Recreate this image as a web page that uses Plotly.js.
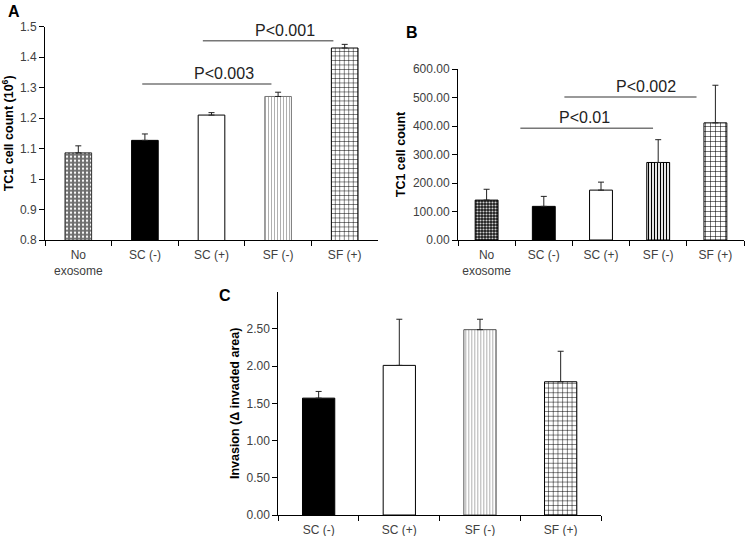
<!DOCTYPE html>
<html>
<head>
<meta charset="utf-8">
<script src="https://cdn.plot.ly/plotly-3.0.1.min.js"></script>
<style>html,body{margin:0;padding:0;background:#fff;}#chart{width:745px;height:536px;}</style>
</head>
<body>
<div id="chart"></div>
<script>
// ---- Data ----
const categoriesAB = ["No<br>exosome", "SC (-)", "SC (+)", "SF (-)", "SF (+)"];
const cellCountA = [1.086, 1.127, 1.210, 1.271, 1.430];
const cellCountAErr = [0.023, 0.021, 0.008, 0.014, 0.012];
const cellCountB = [140, 118, 175, 272, 411];
const cellCountBErr = [38, 35, 28, 80, 132];
const categoriesC = ["SC (-)", "SC (+)", "SF (-)", "SF (+)"];
const invasionC = [1.57, 2.01, 2.49, 1.79];
const invasionCErr = [0.09, 0.62, 0.14, 0.41];

// significance brackets (category index from/to, value level, label)
const sigAFrom = [0.96, 1.87];
const sigATo = [2.90, 3.83];
const sigALevel = [1.312, 1.454];
const sigALabel = ["P<0.003", "P<0.001"];
const sigALabelPos = [2.19, 3.11];
const sigBFrom = [0.59, 1.36];
const sigBTo = [2.91, 3.67];
const sigBLevel = [392, 502];
const sigBLabel = ["P<0.01", "P<0.002"];
const sigBLabelPos = [1.72, 2.78];

// ---- Styles ----
const FONT = "Liberation Sans, Arial, sans-serif";
const W = 745, H = 536;
const px = v => v / W;
const py = v => (H - v) / H;

// one style per bar: [shape, fg, bg, size, solidity, outline]
const styleA = [
  [".", "#ffffff", "#6e6e6e", 4, 0.25, "#333"],
  ["", "#000", "#000000", 4, 0.3, "#000"],
  ["", "#000", "#ffffff", 4, 0.3, "#000"],
  ["|", "#b0b0b0", "#ffffff", 3, 0.35, "#777"],
  ["+", "#000000", "#ffffff", 4.5, 0.2, "#000"]
];
const styleB = [
  [".", "#d0d0d0", "#1a1a1a", 3, 0.4, "#000"],
  ["", "#000", "#000000", 4, 0.3, "#000"],
  ["", "#000", "#ffffff", 4, 0.3, "#000"],
  ["|", "#000000", "#ffffff", 3, 0.4, "#000"],
  ["+", "#000000", "#ffffff", 5, 0.2, "#000"]
];
const styleC = [
  ["", "#000", "#000000", 4, 0.3, "#000"],
  ["", "#000", "#ffffff", 4, 0.3, "#000"],
  ["|", "#b0b0b0", "#ffffff", 3, 0.35, "#555"],
  ["+", "#000000", "#ffffff", 4.7, 0.2, "#000"]
];

function panelTraces(cats, vals, errs, xa, ya, styles) {
  return cats.map((c, i) => {
    const s = styles[i];
    const marker = {color: s[2], line: {color: s[5], width: 1}};
    if (s[0]) marker.pattern = {shape: s[0], fgcolor: s[1], bgcolor: s[2], size: s[3], solidity: s[4], fillmode: "replace"};
    return {
      type: "bar", x: [c], y: [vals[i]], xaxis: xa, yaxis: ya, width: 0.4,
      marker: marker,
      error_y: {type: "data", symmetric: false, array: [errs[i]], arrayminus: [0], color: "#222", thickness: 1, width: 3},
      showlegend: false, hoverinfo: "x+y"
    };
  });
}

const data = [].concat(
  panelTraces(categoriesAB, cellCountA, cellCountAErr, "x", "y", styleA),
  panelTraces(categoriesAB, cellCountB, cellCountBErr, "x2", "y2", styleB),
  panelTraces(categoriesC, invasionC, invasionCErr, "x3", "y3", styleC)
);

const tickFont = {family: FONT, size: 12, color: "#404040"};
const titleFont = {family: FONT, size: 12.5, color: "#000"};

function xAxis(domain, anchor, cats) {
  return {
    domain: domain, anchor: anchor, type: "category", range: [-0.5, cats.length - 0.5],
    categoryorder: "array", categoryarray: cats, tickangle: 0, ticklabelstandoff: 4,
    showline: true, linecolor: "#000", linewidth: 1, ticks: "outside", tickson: "boundaries",
    ticklen: 5, tickcolor: "#000", showgrid: false, zeroline: false, tickfont: tickFont, fixedrange: true
  };
}
function yAxis(domain, anchor, range, extra, title) {
  return Object.assign({
    domain: domain, anchor: anchor, range: range,
    showline: true, linecolor: "#000", linewidth: 1, ticks: "outside", ticklen: 5, tickcolor: "#000",
    showgrid: false, zeroline: false, tickfont: tickFont, fixedrange: true,
    title: {text: title, font: titleFont, standoff: 4}
  }, extra);
}

const shapes = [];
const annotations = [];
sigAFrom.forEach((f, i) => {
  shapes.push({type: "line", xref: "x", yref: "y", x0: f, x1: sigATo[i], y0: sigALevel[i], y1: sigALevel[i], line: {color: "#777", width: 1.5}});
  annotations.push({xref: "x", yref: "y", x: sigALabelPos[i], y: sigALevel[i], text: sigALabel[i], showarrow: false, yanchor: "bottom", xanchor: "center", font: {family: FONT, size: 16, color: "#222"}});
});
sigBFrom.forEach((f, i) => {
  shapes.push({type: "line", xref: "x2", yref: "y2", x0: f, x1: sigBTo[i], y0: sigBLevel[i], y1: sigBLevel[i], line: {color: "#777", width: 1.5}});
  annotations.push({xref: "x2", yref: "y2", x: sigBLabelPos[i], y: sigBLevel[i], text: sigBLabel[i], showarrow: false, yanchor: "bottom", xanchor: "center", font: {family: FONT, size: 16, color: "#222"}});
});
[["A", 14, 12], ["B", 412, 33], ["C", 225, 295]].forEach(l => {
  annotations.push({xref: "paper", yref: "paper", x: px(l[1]), y: py(l[2]), text: "<b>" + l[0] + "</b>", showarrow: false, xanchor: "center", yanchor: "middle", font: {family: FONT, size: 16, color: "#000"}});
});

const layout = {
  width: W, height: H,
  margin: {l: 0, r: 0, t: 0, b: 0},
  paper_bgcolor: "#fff", plot_bgcolor: "rgba(0,0,0,0)",
  font: {family: FONT},
  barmode: "overlay",
  xaxis: xAxis([px(45), px(378)], "y", categoriesAB),
  yaxis: yAxis([py(240), py(26.7)], "x", [0.8, 1.5], {dtick: 0.1, tick0: 0.8}, "<b>TC1 cell count (10<sup>6</sup>)</b>"),
  xaxis2: xAxis([px(458), px(744)], "y2", categoriesAB),
  yaxis2: yAxis([py(240), py(69)], "x2", [0, 600], {dtick: 100, tickformat: ".2f"}, "<b>TC1 cell count</b>"),
  xaxis3: xAxis([px(278.3), px(601)], "y3", categoriesC),
  yaxis3: yAxis([py(515), py(291.7)], "x3", [0, 3.0], {tickmode: "array", tickvals: [0, 0.5, 1, 1.5, 2, 2.5], tickformat: ".2f"}, "<b>Invasion (Δ invaded area)</b>"),
  shapes: shapes,
  annotations: annotations
};

Plotly.newPlot("chart", data, layout, {displayModeBar: false, staticPlot: true});
</script>
</body>
</html>
